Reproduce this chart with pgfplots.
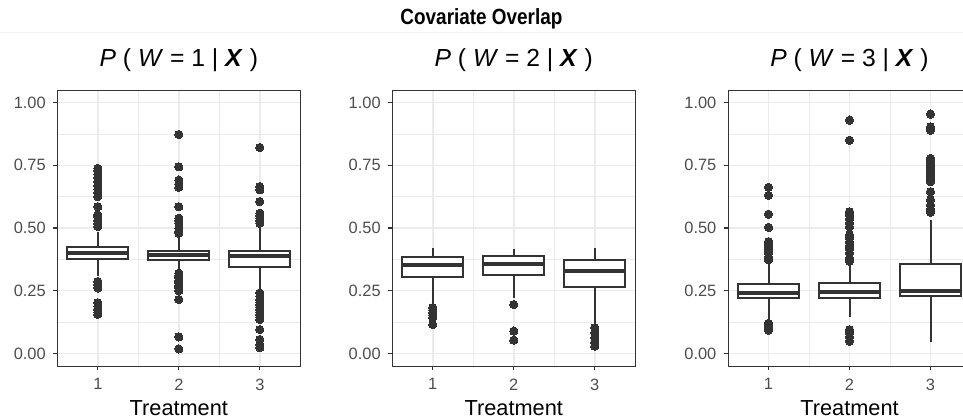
\documentclass[border=0pt]{standalone}
\usepackage{fontspec}
\setmainfont{Liberation Sans}
\usepackage{pgfplots}
\pgfplotsset{compat=1.18}
\usepgfplotslibrary{statistics}
\definecolor{c20}{HTML}{333333}
\definecolor{c30}{HTML}{4D4D4D}
\definecolor{cgrid}{HTML}{EBEBEB}

\pgfplotsset{
  panel/.style={
    scale only axis, width=182.25pt, height=207pt, anchor=north west,
    xmin=0.5, xmax=3.5, ymin=-0.05, ymax=1.05,
    xtick={1,2,3}, minor xtick={1.5,2.5},
    ytick={0,0.25,0.5,0.75,1}, minor ytick={0.125,0.375,0.625,0.875},
    yticklabels={0.00,0.25,0.50,0.75,1.00},
    grid=both,
    major grid style={cgrid, line width=1.1pt},
    minor grid style={cgrid, line width=0.55pt},
    minor tick length=0pt, major tick length=3pt, tick align=outside,
    tick pos=left,
    tick style={c20, line width=0.8pt},
    axis line style={c20, line width=0.7pt},
    ticklabel style={font=\fontsize{12.3}{14}\selectfont, text=c30},
    yticklabel style={xshift=-2.2pt},
    xticklabel style={yshift=-3pt},
    /pgf/number format/assume math mode=true,
    xlabel={Treatment},
    xlabel style={at={(axis description cs:0.5,0)}, anchor=base, yshift=-37pt,
      font=\fontsize{16.3}{19}\selectfont},
    title style={at={(axis description cs:0.5,1)}, anchor=base, yshift=11.5pt,
      font=\fontsize{18.5}{21}\selectfont},
  },
  bp/.style={solid, draw=c20, line width=1.5pt, fill=white,
    mark=*, mark size=3.1pt, mark options={fill=c20, draw=c20, line width=0pt},
    boxplot/draw direction=y,
    boxplot/box extend=0.75, boxplot/whisker extend=0,
    boxplot/every median/.style={line width=3pt}},
}

\begin{document}
\begin{tikzpicture}
\useasboundingbox (0,0) rectangle (722.25pt,315pt);
\clip (0,0) rectangle (722.25pt,315pt);
\node[anchor=base, font=\fontsize{16.5}{19}\selectfont\bfseries, xscale=0.86, transform shape] at (361.1pt,296.25pt) {Covariate Overlap};
\draw[color={rgb,255:red,242;green,242;blue,242}, line width=0.75pt] (0,290.25pt) -- (722.25pt,290.25pt);

% P(W=1|X)
\begin{axis}[panel, at={(43pt,247.5pt)},
  title={\textit{P} ( \textit{W} = 1 | \textbf{\textit{X}} )}]
\addplot[bp, boxplot prepared={draw position=1, lower whisker=0.307, lower quartile=0.376,
  median=0.401, upper quartile=0.426, upper whisker=0.486}]
  table[row sep=\\, header=false, y index=0] {0.506\\0.518\\0.530\\0.545\\0.552\\0.585\\0.625\\0.640\\0.655\\0.670\\0.685\\0.700\\0.715\\0.728\\0.738\\0.287\\0.275\\0.261\\0.202\\0.188\\0.176\\0.165\\0.156\\};
\addplot[bp, boxplot prepared={draw position=2, lower whisker=0.331, lower quartile=0.373,
  median=0.393, upper quartile=0.410, upper whisker=0.466}]
  table[row sep=\\, header=false, y index=0] {0.479\\0.486\\0.499\\0.519\\0.530\\0.539\\0.585\\0.662\\0.675\\0.691\\0.744\\0.873\\0.320\\0.310\\0.301\\0.290\\0.281\\0.270\\0.261\\0.250\\0.215\\0.066\\0.018\\};
\addplot[bp, boxplot prepared={draw position=3, lower whisker=0.254, lower quartile=0.344,
  median=0.387, upper quartile=0.410, upper whisker=0.506}]
  table[row sep=\\, header=false, y index=0] {0.519\\0.530\\0.539\\0.550\\0.559\\0.605\\0.652\\0.665\\0.821\\0.241\\0.228\\0.215\\0.205\\0.195\\0.185\\0.175\\0.165\\0.155\\0.145\\0.135\\0.095\\0.056\\0.036\\0.023\\};
\end{axis}

% P(W=2|X)
\begin{axis}[panel, at={(294.2pt,247.5pt)},
  title={\textit{P} ( \textit{W} = 2 | \textbf{\textit{X}} )}]
\addplot[bp, boxplot prepared={draw position=1, lower whisker=0.195, lower quartile=0.305,
  median=0.351, upper quartile=0.383, upper whisker=0.420}]
  table[row sep=\\, header=false, y index=0] {0.183\\0.173\\0.163\\0.153\\0.143\\0.115\\};
\addplot[bp, boxplot prepared={draw position=2, lower whisker=0.221, lower quartile=0.314,
  median=0.358, upper quartile=0.387, upper whisker=0.417}]
  table[row sep=\\, header=false, y index=0] {0.195\\0.089\\0.053\\};
\addplot[bp, boxplot prepared={draw position=3, lower whisker=0.115, lower quartile=0.265,
  median=0.330, upper quartile=0.373, upper whisker=0.420}]
  table[row sep=\\, header=false, y index=0] {0.102\\0.082\\0.062\\0.045\\0.029\\};
\end{axis}

% P(W=3|X)
\begin{axis}[panel, at={(546pt,247.5pt)},
  title={\textit{P} ( \textit{W} = 3 | \textbf{\textit{X}} )}]
\addplot[bp, boxplot prepared={draw position=1, lower whisker=0.135, lower quartile=0.219,
  median=0.241, upper quartile=0.278, upper whisker=0.367}]
  table[row sep=\\, header=false, y index=0] {0.373\\0.385\\0.400\\0.413\\0.425\\0.437\\0.446\\0.502\\0.555\\0.630\\0.662\\0.120\\0.110\\0.100\\0.093\\};
\addplot[bp, boxplot prepared={draw position=2, lower whisker=0.146, lower quartile=0.221,
  median=0.243, upper quartile=0.280, upper whisker=0.361}]
  table[row sep=\\, header=false, y index=0] {0.367\\0.380\\0.400\\0.415\\0.430\\0.445\\0.460\\0.473\\0.505\\0.519\\0.535\\0.550\\0.565\\0.850\\0.930\\0.095\\0.080\\0.065\\0.049\\};
\addplot[bp, boxplot prepared={draw position=3, lower whisker=0.045, lower quartile=0.228,
  median=0.248, upper quartile=0.356, upper whisker=0.532}]
  table[row sep=\\, header=false, y index=0] {0.562\\0.575\\0.592\\0.612\\0.645\\0.685\\0.697\\0.707\\0.717\\0.727\\0.737\\0.747\\0.757\\0.767\\0.777\\0.890\\0.903\\0.954\\};
\end{axis}
\end{tikzpicture}
\end{document}
